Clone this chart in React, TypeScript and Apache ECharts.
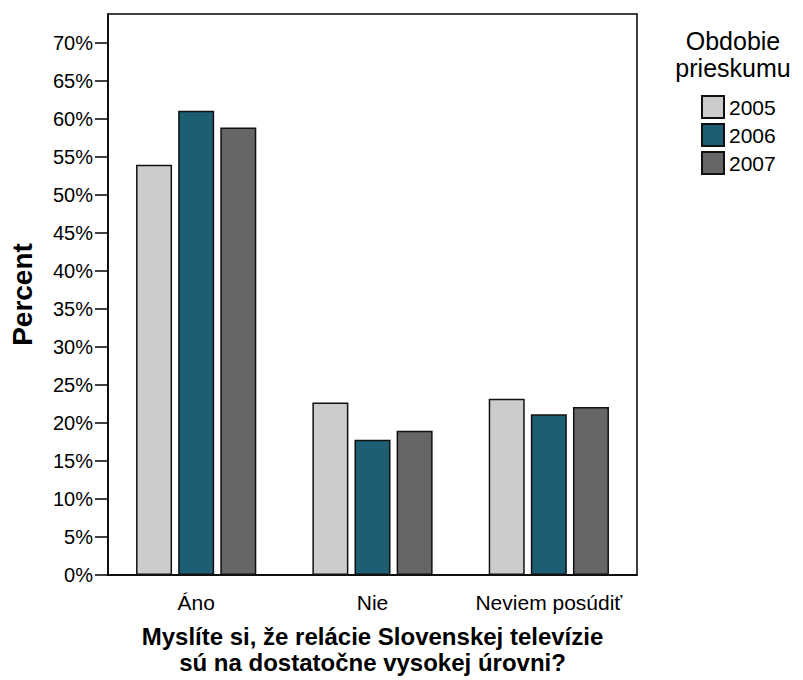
import React, { useEffect, useRef } from "react";
import * as echarts from "echarts";

const categories = ["Áno", "Nie", "Neviem posúdiť"];
const years = ["2005", "2006", "2007"];
const values2005 = [54.0, 22.7, 23.2];
const values2006 = [61.1, 17.8, 21.15];
const values2007 = [58.9, 19.0, 22.1];
const yTicks = [0, 5, 10, 15, 20, 25, 30, 35, 40, 45, 50, 55, 60, 65, 70];
const colors = ["#cccccc", "#1d5e74", "#666666"];

const FONT = "Liberation Sans, Arial, sans-serif";

export default function App() {
  const ref = useRef<HTMLDivElement>(null);
  useEffect(() => {
    if (!ref.current) return;
    const chart = echarts.init(ref.current, null, { renderer: "svg" });
    const seriesData = [values2005, values2006, values2007];
    chart.setOption({
      animation: false,
      textStyle: { fontFamily: FONT },
      grid: {
        left: 102,
        top: 14,
        right: 166,
        bottom: 104.5,
        show: true,
        borderColor: "#000",
        borderWidth: 1.5,
        backgroundColor: "transparent",
      },
      legend: {
        orient: "vertical",
        left: 701,
        top: 95,
        padding: 0,
        itemWidth: 22,
        itemHeight: 22,
        itemGap: 4,
        icon: "rect",
        data: years,
        textStyle: { fontSize: 21, color: "#000", fontFamily: FONT },
      },
      graphic: [
        {
          type: "text",
          x: 733,
          y: 41,
          style: {
            text: "Obdobie",
            fontSize: 25,
            fill: "#000",
            fontFamily: FONT,
            align: "center",
            verticalAlign: "middle",
          },
        },
        {
          type: "text",
          x: 733,
          y: 68,
          style: {
            text: "prieskumu",
            fontSize: 25,
            fill: "#000",
            fontFamily: FONT,
            align: "center",
            verticalAlign: "middle",
          },
        },
      ],
      xAxis: {
        type: "category",
        data: categories,
        axisLine: { lineStyle: { color: "#000", width: 1.5 } },
        axisTick: { alignWithLabel: true, length: 13, lineStyle: { color: "#000", width: 1.5 } },
        axisLabel: { interval: 0, fontSize: 21, color: "#000", margin: 17, fontFamily: FONT },
        name: "Myslíte si, že relácie Slovenskej televízie\nsú na dostatočne vysokej úrovni?",
        nameLocation: "middle",
        nameGap: 48,
        nameTextStyle: { fontSize: 24, fontWeight: "bold", color: "#000", lineHeight: 26, fontFamily: FONT },
      },
      yAxis: {
        type: "value",
        min: 0,
        max: 73.85,
        interval: 5,
        splitLine: { show: false },
        axisLine: { show: true, lineStyle: { color: "#000", width: 1.5 } },
        axisTick: { show: true, length: 13, customValues: yTicks, lineStyle: { color: "#000", width: 1.5 } },
        axisLabel: {
          fontSize: 20,
          color: "#000",
          margin: 15,
          customValues: yTicks,
          formatter: (v: number) => `${v}%`,
          fontFamily: FONT,
        },
        name: "Percent",
        nameLocation: "middle",
        nameGap: 72,
        nameRotate: 90,
        nameTextStyle: { fontSize: 28, fontWeight: "bold", color: "#000", fontFamily: FONT },
      },
      series: years.map((y, i) => ({
        name: y,
        type: "bar",
        data: seriesData[i],
        barWidth: 36,
        barGap: "17%",
        itemStyle: { color: colors[i], borderColor: "#111", borderWidth: 1.5 },
      })),
    });
    return () => chart.dispose();
  }, []);
  return (
    <div
      ref={ref}
      style={{ position: "fixed", left: 0, top: 0, width: 803, height: 680, background: "#fff" }}
    />
  );
}
